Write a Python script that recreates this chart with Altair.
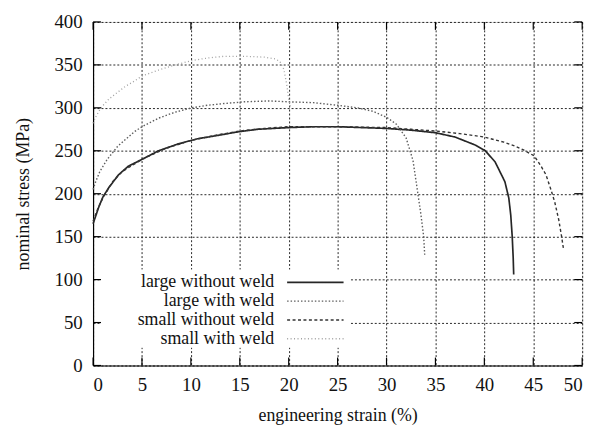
import altair as alt
import pandas as pd

# ---- data ----
lw_x = [0.0, 0.3, 0.6, 1.0, 1.6, 2.6, 3.6, 5.0, 6.7, 8.7, 10.7, 12.8, 14.8, 16.8, 20.0, 22.5, 25.0,
        27.5, 30.0, 32.5, 35.0, 37.0, 39.0, 40.1, 41.1, 42.1, 42.5, 42.7, 42.85, 42.95, 43.0]
lw_y = [165, 175, 185, 196, 207, 222, 232, 240, 250, 258, 264, 268, 272, 275, 277, 278, 278,
        277, 276, 274, 271, 266, 257, 250, 237, 214, 195, 175, 150, 125, 106]

lww_x = [0.0, 0.3, 0.7, 1.45, 2.5, 3.3, 4.2, 5.0, 6.7, 8.4, 10.1, 11.7, 13.4, 15.5, 18.0, 20.0,
         22.5, 25.0, 27.0, 28.6, 30.0, 31.0, 32.0, 32.7, 33.0, 33.5, 33.8, 33.9]
lww_y = [205, 215, 226, 240, 255, 263, 272, 278, 288, 295, 300, 303, 305, 307, 308, 307,
         306, 303, 300, 296, 289, 281, 265, 239, 216, 177, 150, 129]

sw_x = [0.0, 0.5, 1.0, 2.0, 3.0, 5.0, 7.5, 10.0, 12.5, 15.0, 17.5, 20.0, 25.0, 30.0, 32.5, 35.0,
        37.5, 40.0, 42.0, 43.0, 44.0, 45.1, 45.8, 46.3, 46.8, 47.2, 47.6, 47.9, 48.1]
sw_y = [168, 183, 195, 214, 226, 240, 253, 262, 268, 273, 276, 278, 278, 277, 275, 273,
        270, 266, 260, 256, 251, 244, 232, 222, 205, 190, 170, 150, 135]

sww_x = [0.0, 0.3, 0.8, 1.6, 2.5, 3.3, 4.2, 5.0, 6.7, 8.4, 10.1, 11.7, 13.4, 15.5, 17.5, 18.6,
         19.1, 19.5, 19.8, 20.0, 20.2]
sww_y = [282, 290, 300, 310, 318, 325, 331, 337, 344, 350, 355, 358, 360, 360, 359, 357,
         354, 345, 327, 310, 300]

series_names = ["large without weld", "large with weld", "small without weld", "small with weld"]
series_colors = ["#262626", "#5e5e5e", "#333333", "#a0a0a0"]
series_dash = [[1, 0], [1.5, 2], [3, 2.5], [1, 2.5]]
series_width = [1.7, 1.4, 1.4, 1.3]

x_ticks = [0, 5, 10, 15, 20, 25, 30, 35, 40, 45, 50]
y_ticks = [0, 50, 100, 150, 200, 250, 300, 350, 400]

FONT = "'Liberation Serif', 'Times New Roman', serif"
W, H = 494, 347

xs = alt.Scale(domain=[0, 50], nice=False, zero=False)
ys = alt.Scale(domain=[0, 400], nice=False, zero=False)

curves = [(lw_x, lw_y), (lww_x, lww_y), (sw_x, sw_y), (sww_x, sww_y)]

# base with axes and grid
base_df = pd.DataFrame({"x": [0, 50], "y": [0, 400]})
axes = alt.Chart(base_df).mark_point(opacity=0).encode(
    x=alt.X("x:Q", scale=xs,
            axis=alt.Axis(values=x_ticks, title="engineering strain (%)", grid=True,
                          gridColor="#000", gridDash=[2, 2], gridOpacity=0.85, gridWidth=1,
                          domainColor="#000", domainWidth=1.2, ticks=False,
                          labelFont=FONT, labelFontSize=19, labelColor="#111", labelPadding=10,
                          titleFont=FONT, titleFontSize=18, titleFontWeight="normal",
                          titleColor="#111", titlePadding=13)),
    y=alt.Y("y:Q", scale=ys,
            axis=alt.Axis(values=y_ticks, title="nominal stress (MPa)", grid=True,
                          gridColor="#000", gridDash=[2, 2], gridOpacity=0.85, gridWidth=1,
                          domainColor="#000", domainWidth=1.2, ticks=False,
                          labelFont=FONT, labelFontSize=19, labelColor="#111", labelPadding=11,
                          titleFont=FONT, titleFontSize=18, titleFontWeight="normal",
                          titleColor="#111", titlePadding=22)),
)

layers = [axes]
for i, (cx, cy) in enumerate(curves):
    df = pd.DataFrame({"x": cx, "y": cy})
    layers.append(
        alt.Chart(df).mark_line(color=series_colors[i], strokeDash=series_dash[i],
                                strokeWidth=series_width[i]).encode(
            x=alt.X("x:Q", scale=xs), y=alt.Y("y:Q", scale=ys), order="x:Q")
    )

# legend box
leg_box = alt.Chart(pd.DataFrame({"k": [0]})).mark_rect(fill="white").encode(
    x=alt.value(7), x2=alt.value(260), y=alt.value(250), y2=alt.value(329))
layers.append(leg_box)

leg_df = pd.DataFrame({"name": series_names, "i": list(range(4))})
leg_df["py"] = 263 + leg_df["i"] * 19
leg_text = alt.Chart(leg_df).mark_text(align="right", baseline="middle", font=FONT,
                                       fontSize=18, color="#111").encode(
    x=alt.value(183), y=alt.Y("py:Q", scale=None), text="name:N")
layers.append(leg_text)
for i in range(4):
    layers.append(
        alt.Chart(leg_df[leg_df["i"] == i]).mark_rule(
            color=series_colors[i], strokeDash=series_dash[i], strokeWidth=series_width[i]).encode(
            x=alt.value(196), x2=alt.value(253), y=alt.Y("py:Q", scale=None))
    )

# inward ticks on all four borders
xt = pd.DataFrame({"x": x_ticks})
yt = pd.DataFrame({"y": y_ticks})
tick_style = dict(color="#000", strokeWidth=1.2)
layers.append(alt.Chart(xt).mark_rule(**tick_style).encode(
    x=alt.X("x:Q", scale=xs), y=alt.value(H), y2=alt.value(H - 8)))
layers.append(alt.Chart(xt).mark_rule(**tick_style).encode(
    x=alt.X("x:Q", scale=xs), y=alt.value(0), y2=alt.value(8)))
layers.append(alt.Chart(yt).mark_rule(**tick_style).encode(
    y=alt.Y("y:Q", scale=ys), x=alt.value(0), x2=alt.value(8)))
layers.append(alt.Chart(yt).mark_rule(**tick_style).encode(
    y=alt.Y("y:Q", scale=ys), x=alt.value(W), x2=alt.value(W - 8)))

chart = alt.layer(*layers).properties(
    width=W, height=H,
    autosize=alt.AutoSizeParams(type="none"),
    padding={"left": 94, "top": 20, "right": 17, "bottom": 63},
).configure_view(stroke="#000", strokeWidth=1.2).configure(background="white")

chart.save("out.html", embed_options={"renderer": "svg", "actions": False})
